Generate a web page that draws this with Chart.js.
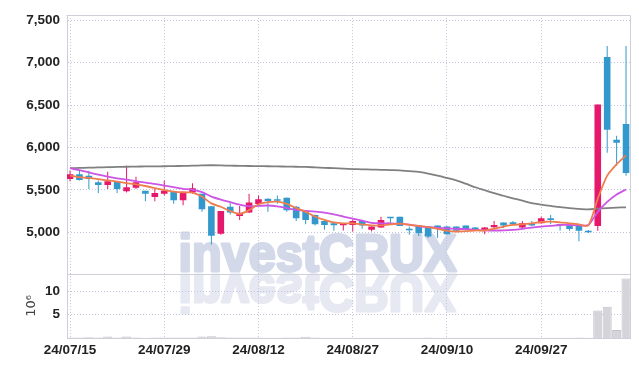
<!DOCTYPE html>
<html>
<head>
<meta charset="utf-8">
<script src="https://cdn.jsdelivr.net/npm/chart.js@4.4.1/dist/chart.umd.min.js"></script>
<style>
html, body { margin: 0; padding: 0; background: #fff; }
</style>
</head>
<body>
<canvas id="chart" width="639" height="367"></canvas>
<script>
// trading days shown on the chart
const dates = [
	"24/07/15", "24/07/16", "24/07/17", "24/07/18", "24/07/19",
	"24/07/22", "24/07/23", "24/07/24", "24/07/25", "24/07/26",
	"24/07/29", "24/07/30", "24/07/31", "24/08/01", "24/08/02",
	"24/08/05", "24/08/06", "24/08/07", "24/08/08", "24/08/09",
	"24/08/12", "24/08/13", "24/08/14", "24/08/16",
	"24/08/19", "24/08/20", "24/08/21", "24/08/22", "24/08/23",
	"24/08/26", "24/08/27", "24/08/28", "24/08/29", "24/08/30",
	"24/09/02", "24/09/03", "24/09/04", "24/09/05", "24/09/06",
	"24/09/09", "24/09/10", "24/09/11", "24/09/12", "24/09/13",
	"24/09/19", "24/09/20",
	"24/09/23", "24/09/24", "24/09/25", "24/09/26", "24/09/27",
	"24/09/30", "24/10/02", "24/10/04",
	"24/10/07", "24/10/08", "24/10/10", "24/10/11",
	"24/10/14", "24/10/15",
];

const opens = [
	5627, 5685, 5667, 5589, 5558, 5600, 5484, 5523, 5488, 5415,
	5453, 5476, 5376, 5469, 5453, 5307, 4981, 5299, 5191, 5232,
	5333, 5395, 5383, 5407, 5299, 5249, 5202, 5132, 5105, 5081,
	5086, 5132, 5028, 5055, 5175, 5182, 5031, 5078, 5066, 5078,
	5066, 5066, 5078, 5055, 5023, 5058, 5113, 5116, 5055, 5086,
	5105, 5163, 5093, 5078, 5078, 5016, 5074, 7068, 6092, 6278,
];
const highs = [
	5729, 5725, 5725, 5609, 5713, 5600, 5783, 5655, 5488, 5511,
	5609, 5476, 5476, 5577, 5453, 5307, 5249, 5349, 5310, 5453,
	5434, 5400, 5434, 5410, 5310, 5260, 5210, 5140, 5110, 5105,
	5150, 5132, 5066, 5182, 5175, 5182, 5066, 5078, 5066, 5078,
	5070, 5066, 5078, 5060, 5060, 5132, 5113, 5132, 5132, 5132,
	5182, 5202, 5093, 5078, 5078, 5025, 6507, 7196, 6139, 7196,
];
const lows = [
	5600, 5609, 5511, 5461, 5511, 5461, 5469, 5511, 5365, 5365,
	5434, 5337, 5318, 5455, 5240, 4854, 4970, 5209, 5144, 5225,
	5333, 5240, 5337, 5240, 5132, 5093, 5080, 5028, 5016, 5020,
	5008, 5040, 5008, 5050, 5093, 5074, 4970, 4955, 4930, 4930,
	4977, 5000, 5020, 5030, 4977, 5050, 5050, 5085, 5040, 5070,
	5100, 5093, 5016, 5016, 4892, 4990, 5016, 5938, 5783, 5667,
];
const closes = [
	5685, 5616, 5627, 5558, 5600, 5511, 5531, 5589, 5453, 5461,
	5488, 5376, 5476, 5519, 5272, 4958, 5249, 5232, 5229, 5349,
	5388, 5368, 5372, 5260, 5163, 5144, 5093, 5086, 5081, 5105,
	5132, 5078, 5066, 5144, 5165, 5074, 5023, 4988, 4950, 5046,
	4977, 5016, 5028, 5035, 5055, 5086, 5078, 5093, 5105, 5078,
	5163, 5144, 5078, 5039, 5016, 5000, 6507, 6208, 6054, 5697,
];

// volume in millions of shares
const volumes = [
	0.12, 0.10, 0.14, 0.11, 0.30, 0.09, 0.30, 0.12, 0.08, 0.10,
	0.11, 0.13, 0.10, 0.12, 0.32, 0.35, 0.15, 0.10, 0.09, 0.12,
	0.11, 0.08, 0.07, 0.10, 0.09, 0.26, 0.10, 0.07, 0.06, 0.08,
	0.07, 0.06, 0.05, 0.08, 0.06, 0.07, 0.06, 0.08, 0.09, 0.07,
	0.06, 0.05, 0.05, 0.04, 0.05, 0.06, 0.07, 0.05, 0.06, 0.05,
	0.08, 0.07, 0.06, 0.05, 0.09, 0.06, 5.9, 6.7, 1.7, 12.8,
];

const ma5 = [
	5667, 5650, 5640, 5625, 5612, 5597, 5580, 5565, 5545, 5520,
	5495, 5478, 5470, 5468, 5420, 5340, 5300, 5250, 5215, 5260,
	5330, 5355, 5360, 5335, 5285, 5240, 5185, 5145, 5115, 5105,
	5105, 5093, 5080, 5080, 5093, 5100, 5086, 5075, 5060, 5040,
	5016, 5008, 5012, 5020, 5020, 5040, 5066, 5086, 5093, 5105,
	5120, 5124, 5116, 5105, 5093, 5078, 5395, 5667, 5802, 5906,
];
const ma20 = [
	5755, 5732, 5705, 5680, 5655, 5636, 5620, 5600, 5585, 5569,
	5550, 5531, 5512, 5500, 5473, 5420, 5385, 5355, 5325, 5305,
	5310, 5315, 5305, 5285, 5262, 5252, 5243, 5230, 5210, 5185,
	5160, 5135, 5110, 5105, 5105, 5100, 5088, 5070, 5060, 5052,
	5045, 5040, 5035, 5028, 5022, 5020, 5022, 5028, 5040, 5055,
	5066, 5075, 5085, 5085, 5080, 5085, 5240, 5357, 5445, 5504,
];
const ma120 = [
	5755, 5758, 5761, 5764, 5767, 5770, 5772, 5774, 5776, 5777,
	5778, 5780, 5782, 5785, 5788, 5790, 5788, 5785, 5783, 5781,
	5780, 5778, 5776, 5774, 5772, 5770, 5765, 5760, 5755, 5750,
	5745, 5742, 5739, 5736, 5733, 5730, 5720, 5712, 5692, 5668,
	5640, 5612, 5572, 5530, 5495, 5460, 5430, 5400, 5372, 5342,
	5325, 5310, 5295, 5283, 5275, 5268, 5278, 5285, 5290, 5293,
];

const priceTicks = [5000, 5500, 6000, 6500, 7000, 7500];
const volTicks = [5, 10];
const dateTickIdx = [0, 10, 20, 30, 40, 50];

const UP = "#e6186b";
const DOWN = "#3399cc";
const GRID = "#c0c4dc";
const FRAME = "#cdcfdb";
const tickFont = {
	family: "'Liberation Sans', Arial, sans-serif",
	size: 13.5,
	weight: "bold",
};

const candleColors = closes.map((c, i) => (c >= opens[i] ? UP : DOWN));
const pts = (arr) => arr.map((v, i) => ({ x: i, y: v }));

const watermark = {
	id: "watermark",
	beforeDraw(chart) {
		const ctx = chart.ctx;
		const text = "investCRUX";
		ctx.save();
		ctx.font = "bold 52px 'Liberation Sans', Arial, sans-serif";
		const sx = 278 / ctx.measureText(text).width;
		ctx.translate(178.5, 271);
		ctx.scale(sx, 1);
		ctx.lineJoin = "round";
		ctx.lineWidth = 3;
		ctx.fillStyle = ctx.strokeStyle = "#d3d9e9";
		ctx.fillText(text, 0, 0);
		ctx.strokeText(text, 0, 0);
		ctx.scale(1, -1);
		ctx.fillStyle = ctx.strokeStyle = "#e7e9f2";
		ctx.fillText(text, 0, -4);
		ctx.strokeText(text, 0, -4);
		ctx.restore();
	},
};

const frame = {
	id: "frame",
	beforeDatasetsDraw(chart) {
		const { ctx, chartArea: a } = chart;
		const sep = Math.round(chart.scales.y.bottom) + 0.5;
		ctx.save();
		ctx.strokeStyle = FRAME;
		ctx.lineWidth = 1;
		ctx.beginPath();
		ctx.moveTo(Math.round(a.left) - 0.5, Math.round(a.top) + 0.5);
		ctx.lineTo(Math.round(a.right) + 0.5, Math.round(a.top) + 0.5);
		ctx.lineTo(Math.round(a.right) + 0.5, Math.round(a.bottom));
		ctx.moveTo(a.left, sep);
		ctx.lineTo(a.right, sep);
		ctx.stroke();
		ctx.restore();
	},
};

new Chart(document.getElementById("chart"), {
	type: "bar",
	data: {
		datasets: [
			{
				type: "line",
				label: "MA5",
				data: pts(ma5),
				borderColor: "#ef7d4e",
				borderWidth: 1.8,
				pointRadius: 0,
				tension: 0.25,
				yAxisID: "y",
				order: 0,
			},
			{
				type: "line",
				label: "MA20",
				data: pts(ma20),
				borderColor: "#cc55e6",
				borderWidth: 1.8,
				pointRadius: 0,
				tension: 0.25,
				yAxisID: "y",
				order: 0,
			},
			{
				type: "line",
				label: "MA120",
				data: pts(ma120),
				borderColor: "#808080",
				borderWidth: 1.8,
				pointRadius: 0,
				tension: 0.25,
				yAxisID: "y",
				order: 0,
			},
			{
				label: "Body",
				data: opens.map((o, i) => ({ x: i, y: [o, closes[i]] })),
				backgroundColor: candleColors,
				grouped: false,
				barPercentage: 0.7,
				categoryPercentage: 1,
				minBarLength: 1.5,
				yAxisID: "y",
				order: 2,
			},
			{
				label: "Wick",
				data: lows.map((l, i) => ({ x: i, y: [l, highs[i]] })),
				backgroundColor: candleColors,
				grouped: false,
				maxBarThickness: 1,
				yAxisID: "y",
				order: 3,
			},
			{
				label: "Volume",
				data: pts(volumes),
				backgroundColor: "#d4d4da",
				borderColor: "#c3c3cb",
				borderWidth: 1,
				grouped: false,
				barPercentage: 0.96,
				categoryPercentage: 1,
				yAxisID: "vol",
				order: 4,
			},
		],
	},
	options: {
		responsive: false,
		animation: false,
		layout: { padding: { top: 10, right: 9, left: 0, bottom: 0 } },
		plugins: {
			legend: { display: false },
			tooltip: { enabled: false },
		},
		scales: {
			x: {
				type: "linear",
				offset: false,
				min: -0.32,
				max: 59.42,
				afterBuildTicks: (axis) => {
					axis.ticks = dateTickIdx.map((v) => ({ value: v }));
				},
				afterFit: (axis) => {
					axis.height = 29;
				},
				grid: { color: GRID, drawTicks: false, offset: false },
				border: { color: FRAME, dash: [1, 2] },
				ticks: {
					callback: (v) => dates[v],
					font: tickFont,
					color: "#222",
					padding: 4,
					maxRotation: 0,
					autoSkip: false,
				},
			},
			vol: {
				type: "linear",
				position: "left",
				stack: "panels",
				stackWeight: 1,
				min: 0,
				max: 13.8,
				afterBuildTicks: (axis) => {
					axis.ticks = volTicks.map((v) => ({ value: v }));
				},
				afterFit: (axis) => {
					axis.width = 67;
				},
				grid: { color: GRID, drawTicks: false },
				border: { color: FRAME, dash: [1, 2] },
				ticks: { font: tickFont, color: "#222", padding: 7 },
				title: {
					display: true,
					text: "10\u2076",
					font: { family: "'DejaVu Sans', sans-serif", size: 13 },
					color: "#444",
					padding: { top: 24, bottom: 0 },
				},
			},
			y: {
				type: "linear",
				position: "left",
				stack: "panels",
				stackWeight: 4.035,
				min: 4508,
				max: 7562,
				afterBuildTicks: (axis) => {
					axis.ticks = priceTicks.map((v) => ({ value: v }));
				},
				afterFit: (axis) => {
					axis.width = 67;
				},
				grid: { color: GRID, drawTicks: false },
				border: { color: FRAME, dash: [1, 2] },
				ticks: { font: tickFont, color: "#222", padding: 7 },
			},
		},
	},
	plugins: [watermark, frame],
});
</script>
</body>
</html>
